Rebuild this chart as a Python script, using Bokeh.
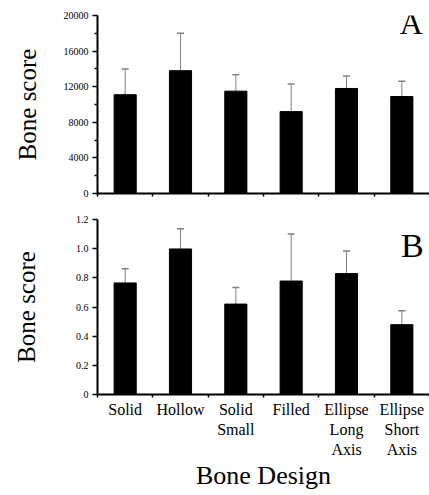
from bokeh.plotting import figure
from bokeh.layouts import column
from bokeh.models import Range1d, FixedTicker, ColumnDataSource, Whisker, Label
from bokeh.embed import file_html
from bokeh.resources import INLINE

categories = ["Solid", "Hollow", "Solid\nSmall", "Filled", "Ellipse\nLong\nAxis", "Ellipse\nShort\nAxis"]
score_a = [11100, 13800, 11500, 9200, 11800, 10900]
err_a = [2900, 4200, 1850, 3100, 1400, 1700]
score_b = [0.765, 0.998, 0.620, 0.778, 0.829, 0.479]
err_b = [0.098, 0.138, 0.113, 0.323, 0.155, 0.096]
ticks_a = [0, 4000, 8000, 12000, 16000, 20000]
minor_a = [2000, 6000, 10000, 14000, 18000]
ticks_b = [0, 0.2, 0.4, 0.6, 0.8, 1.0, 1.2]
tick_labels_b = ["0", "0.2", "0.4", "0.6", "0.8", "1.0", "1.2"]

FONT = "Liberation Serif"
n = len(categories)
centers = [i + 0.5 for i in range(n)]
bounds = list(range(n + 1))


def make_fig(height, y_max, border_top, border_bottom):
    p = figure(width=429, height=height, x_range=Range1d(0, n), y_range=Range1d(0, y_max),
               output_backend="svg", toolbar_location=None,
               min_border_left=97, min_border_right=0,
               min_border_top=border_top, min_border_bottom=border_bottom)
    p.outline_line_color = None
    p.xgrid.visible = False
    p.ygrid.visible = False
    for axes in (p.xaxis, p.yaxis):
        axes.axis_line_width = 2
        axes.axis_line_color = "black"
        axes.major_tick_line_color = "black"
        axes.major_tick_line_width = 1.5
        axes.minor_tick_line_color = "black"
        axes.minor_tick_line_width = 1.5
        axes.major_label_text_font_style = "normal"
        axes.major_label_text_color = "black"
        axes.axis_label_text_font = FONT
        axes.axis_label_text_font_style = "normal"
        axes.axis_label_text_color = "black"
    p.xaxis.major_label_text_font = "serif"
    p.yaxis.major_label_text_font = "Times"
    p.yaxis.major_tick_in = 0
    p.yaxis.major_tick_out = 5
    p.yaxis.minor_tick_in = 0
    p.yaxis.minor_tick_out = 3
    p.yaxis.major_label_text_font_size = "10px"
    p.yaxis.major_label_standoff = 4
    p.yaxis.axis_label = "Bone score"
    p.yaxis.axis_label_text_font_size = "25px"
    p.xaxis.major_tick_in = 0
    p.xaxis.major_tick_out = 0
    p.xaxis.minor_tick_in = 0
    p.xaxis.minor_tick_out = 3
    return p


def add_bars(p, vals, errs):
    src = ColumnDataSource(dict(x=centers, top=vals,
                                upper=[v + e for v, e in zip(vals, errs)]))
    w = Whisker(source=src, base="x", lower="top", upper="upper", dimension="height",
                line_color="#808080", line_width=1, lower_head=None)
    w.upper_head.size = 7
    w.upper_head.line_color = "#808080"
    w.upper_head.line_width = 1.5
    p.add_layout(w)
    p.vbar(x="x", top="top", width=0.4, bottom=0, source=src,
           fill_color="black", line_color="black")


def panel_letter(p, x, y, text, size):
    p.add_layout(Label(x=x, y=y, text=text, text_font=FONT, text_font_size=size,
                       text_align="center", text_baseline="middle", text_color="black"))


# Panel A  (frame: x 97..429, y 15..193)
pa = make_fig(208, 20000, 15, 15)
pa.yaxis.ticker = FixedTicker(ticks=ticks_a, minor_ticks=minor_a)
pa.yaxis.axis_label_standoff = 20
pa.xaxis.ticker = FixedTicker(ticks=[], minor_ticks=bounds)
add_bars(pa, score_a, err_a)
panel_letter(pa, 5.67, 19160, "A", "32px")

# Panel B  (frame: x 97..429, y 219..394)
pb = make_fig(287, 1.2, 11, 101)
pb.yaxis.ticker = FixedTicker(ticks=ticks_b)
pb.yaxis.major_label_overrides = {t: s for t, s in zip(ticks_b, tick_labels_b)}
pb.yaxis.axis_label_standoff = 33
pb.xaxis.ticker = FixedTicker(ticks=centers, minor_ticks=bounds)
pb.xaxis.major_label_overrides = {c: s for c, s in zip(centers, categories)}
pb.xaxis.major_label_text_font_size = "16px"
pb.xaxis.major_label_standoff = 3
pb.xaxis.axis_label = "Bone Design"
pb.xaxis.axis_label_text_font_size = "26px"
pb.xaxis.axis_label_standoff = 0
add_bars(pb, score_b, err_b)
panel_letter(pb, 5.69, 1.023, "B", "34px")

layout = column(pa, pb, spacing=0)
open("out.html", "w").write(file_html(layout, INLINE))
